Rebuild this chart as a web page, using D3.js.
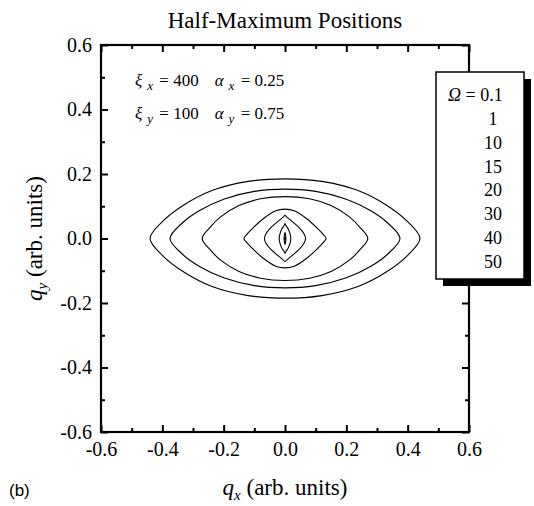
<!DOCTYPE html>
<html lang="en">
<head>
<meta charset="UTF-8">
<title>Half-Maximum Positions</title>
<script src="https://d3js.org/d3.v7.min.js"></script>
<style>
  body { margin: 0; background: #fff; }
  text { font-family: "Liberation Serif", "Times New Roman", serif; fill: #000; }
</style>
</head>
<body>
<div id="chart"></div>
<script>
  // half-maximum contours, first quadrant only (qx >= 0, qy >= 0), mirrored below
  var omegaValues = ["0.1", "1", "10", "15", "20", "30", "40", "50"];
  var hm01 = [[0, 0.004], [0.001, 0.002], [0.001, 0]];
  var hm1  = [[0, 0.019], [0.002, 0.01], [0.003, 0]];
  var hm10 = [[0, 0.046], [0.003, 0.040], [0.010, 0.030], [0.016, 0.016], [0.019, 0]];
  var hm15 = [[0, 0.072], [0.006, 0.066], [0.022, 0.054], [0.046, 0.034], [0.062, 0.015], [0.067, 0]];
  var hm20 = [[0, 0.091], [0.03, 0.086], [0.07, 0.062], [0.105, 0.032], [0.126, 0.011], [0.134, 0]];
  var hm30 = [[0, 0.13], [0.08, 0.123], [0.15, 0.102], [0.21, 0.067], [0.245, 0.034], [0.27, 0]];
  var hm40 = [[0, 0.153], [0.10, 0.146], [0.20, 0.122], [0.28, 0.086], [0.335, 0.048], [0.375, 0]];
  var hm50 = [[0, 0.185], [0.12, 0.177], [0.24, 0.148], [0.33, 0.104], [0.40, 0.052], [0.44, 0]];
  var contours = [hm01, hm1, hm10, hm15, hm20, hm30, hm40, hm50];

  var majorTicks = [-0.6, -0.4, -0.2, 0.0, 0.2, 0.4, 0.6];
  var minorTicks = [-0.5, -0.3, -0.1, 0.1, 0.3, 0.5];

  var width = 534, height = 506;
  var plotL = 101, plotR = 469, plotT = 45, plotB = 432;

  var svg = d3.select("#chart").append("svg")
      .attr("width", width)
      .attr("height", height);

  var x = d3.scaleLinear().domain([-0.6, 0.6]).range([plotL, plotR]);
  var y = d3.scaleLinear().domain([-0.6, 0.6]).range([plotB, plotT]);

  // mirror the quadrant into a closed loop
  function fullLoop(q) {
    var pts = q.slice();
    for (var i = q.length - 2; i >= 0; i--) pts.push([q[i][0], -q[i][1]]);
    for (var i = 1; i < q.length; i++) pts.push([-q[i][0], -q[i][1]]);
    for (var i = q.length - 2; i >= 1; i--) pts.push([-q[i][0], q[i][1]]);
    return pts;
  }

  var line = d3.line()
      .x(function (d) { return x(d[0]); })
      .y(function (d) { return y(d[1]); })
      .curve(d3.curveCatmullRomClosed.alpha(0.5));

  svg.append("g").selectAll("path")
      .data(contours)
      .join("path")
      .attr("d", function (d) { return line(fullLoop(d)); })
      .attr("fill", "none")
      .attr("stroke", "#000")
      .attr("stroke-width", 1.1);

  // axes, ticks pointing inwards on all four sides
  function drawAxis(axis, translate, showLabels) {
    var g = svg.append("g").attr("transform", translate).call(axis);
    g.select(".domain").remove();
    g.selectAll("line").attr("stroke", "#000").attr("stroke-width", 2);
    g.selectAll("text")
        .attr("fill", "#000")
        .style("font-family", "'Liberation Serif', serif")
        .style("font-size", "20px");
    if (!showLabels) g.selectAll("text").remove();
    return g;
  }
  var fmt = function (d) { return d3.format(".1f")(d).replace("\u2212", "-"); };

  drawAxis(d3.axisBottom(x).tickValues(majorTicks).tickSize(-7).tickPadding(10).tickFormat(fmt), "translate(0," + plotB + ")", true);
  drawAxis(d3.axisBottom(x).tickValues(minorTicks).tickSize(-4).tickFormat(""), "translate(0," + plotB + ")", false);
  drawAxis(d3.axisTop(x).tickValues(majorTicks).tickSize(-7).tickFormat(""), "translate(0," + plotT + ")", false);
  drawAxis(d3.axisTop(x).tickValues(minorTicks).tickSize(-4).tickFormat(""), "translate(0," + plotT + ")", false);
  drawAxis(d3.axisLeft(y).tickValues(majorTicks).tickSize(-7).tickPadding(9).tickFormat(fmt), "translate(" + plotL + ",0)", true);
  drawAxis(d3.axisLeft(y).tickValues(minorTicks).tickSize(-4).tickFormat(""), "translate(" + plotL + ",0)", false);
  drawAxis(d3.axisRight(y).tickValues(majorTicks).tickSize(-7).tickFormat(""), "translate(" + plotR + ",0)", false);
  drawAxis(d3.axisRight(y).tickValues(minorTicks).tickSize(-4).tickFormat(""), "translate(" + plotR + ",0)", false);

  svg.append("rect")
      .attr("x", plotL).attr("y", plotT)
      .attr("width", plotR - plotL).attr("height", plotB - plotT)
      .attr("fill", "none").attr("stroke", "#000").attr("stroke-width", 2.2);

  // title and axis labels
  svg.append("text")
      .attr("x", (plotL + plotR) / 2).attr("y", 28)
      .attr("text-anchor", "middle")
      .style("font-size", "23px")
      .text("Half-Maximum Positions");

  var xl = svg.append("text")
      .attr("x", (plotL + plotR) / 2).attr("y", 495)
      .attr("text-anchor", "middle")
      .style("font-size", "23px");
  xl.append("tspan").style("font-style", "italic").text("q");
  xl.append("tspan").style("font-style", "italic").style("font-size", "15px").attr("dy", 5).text("x");
  xl.append("tspan").attr("dy", -5).text(" (arb. units)");

  var yl = svg.append("text")
      .attr("transform", "translate(42," + y(0) + ") rotate(-90)")
      .attr("text-anchor", "middle")
      .style("font-size", "23px");
  yl.append("tspan").style("font-style", "italic").text("q");
  yl.append("tspan").style("font-style", "italic").style("font-size", "15px").attr("dy", 5).text("y");
  yl.append("tspan").attr("dy", -5).text(" (arb. units)");

  svg.append("text")
      .attr("x", 9).attr("y", 496)
      .style("font-family", "'Liberation Sans', Arial, sans-serif")
      .style("font-size", "17px")
      .text("(b)");

  // parameter annotation
  function paramLine(yPos, sub, xi, alpha) {
    var t = svg.append("text").attr("x", 135).attr("y", yPos).style("font-size", "17px");
    t.append("tspan").style("font-style", "italic").text("\u03BE");
    t.append("tspan").style("font-style", "italic").style("font-size", "13px").attr("dy", 4).attr("dx", 5).text(sub);
    t.append("tspan").attr("dy", -4).attr("dx", 2).text(" = " + xi);
    t.append("tspan").style("font-style", "italic").attr("dx", 16).text("\u03B1");
    t.append("tspan").style("font-style", "italic").style("font-size", "13px").attr("dy", 4).attr("dx", 5).text(sub);
    t.append("tspan").attr("dy", -4).attr("dx", 2).text(" = " + alpha);
  }
  paramLine(86, "x", "400", "0.25");
  paramLine(119, "y", "100", "0.75");

  // legend box with drop shadow
  var lx = 436, ly = 72, lw = 88, lh = 207, sh = 7;
  svg.append("rect").attr("x", lx + sh).attr("y", ly + sh).attr("width", lw).attr("height", lh).attr("fill", "#000");
  svg.append("rect").attr("x", lx).attr("y", ly).attr("width", lw).attr("height", lh)
      .attr("fill", "#fff").attr("stroke", "#000").attr("stroke-width", 1.5);

  var legendY = d3.scalePoint().domain(omegaValues).range([ly + 29, ly + 196]);
  svg.append("g").selectAll("text")
      .data(omegaValues)
      .join("text")
      .attr("x", lx + 57)
      .attr("y", function (d) { return legendY(d); })
      .attr("text-anchor", "middle")
      .style("font-size", "18px")
      .each(function (d, i) {
        var t = d3.select(this);
        if (i === 0) {
          t.attr("x", lx + 12).attr("text-anchor", "start");
          t.append("tspan").style("font-style", "italic").text("\u03A9");
          t.append("tspan").text(" = " + d);
        } else {
          t.text(d);
        }
      });
</script>
</body>
</html>
